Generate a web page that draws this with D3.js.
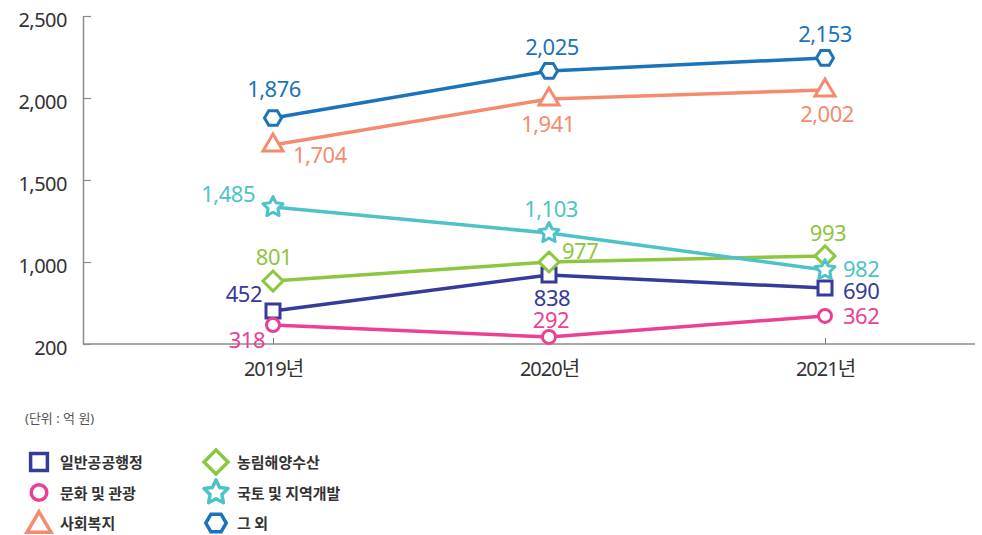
<!DOCTYPE html>
<html>
<head>
<meta charset="utf-8">
<script src="https://cdn.jsdelivr.net/npm/d3@7"></script>
<style>
  body { margin: 0; background: #fff; }
  text { font-family: "Noto Sans", "Noto Sans CJK KR", sans-serif; }
</style>
</head>
<body>
<script>
// categories and axis labels
var years = ["2019년", "2020년", "2021년"];
var yTickLevels = [500, 1000, 1500, 2000, 2500];
var yTickLabels = ["200", "1,000", "1,500", "2,000", "2,500"];

// printed values (억 원)
var generalAdmin = [452, 838, 690];
var cultureTourism = [318, 292, 362];
var socialWelfare = [1704, 1941, 2002];
var agriMarine = [801, 977, 993];
var landRegional = [1485, 1103, 982];
var others = [1876, 2025, 2153];

// where each point sits against the drawn axis (axis is not to scale)
var generalAdminLevel = [701, 921, 841];
var cultureTourismLevel = [616, 543, 671];
var socialWelfareLevel = [1713, 1994, 2049];
var agriMarineLevel = [884, 1000, 1037];
var landRegionalLevel = [1335, 1177, 951];
var othersLevel = [1878, 2165, 2244];

var series = [
  {name: "일반공공행정", values: generalAdmin, levels: generalAdminLevel, color: "#363a98", shape: "square",
   labels: [[-11, -9, "end"], [3, 31, "middle"], [18, 11, "start"]]},
  {name: "문화 및 관광", values: cultureTourism, levels: cultureTourismLevel, color: "#ec4094", shape: "circle",
   labels: [[-8, 23, "end"], [2, -9, "middle"], [18, 8, "start"]]},
  {name: "사회복지", values: socialWelfare, levels: socialWelfareLevel, color: "#f58b6d", shape: "triangle",
   labels: [[20, 18, "start"], [-1, 33, "middle"], [2, 32, "middle"]]},
  {name: "농림해양수산", values: agriMarine, levels: agriMarineLevel, color: "#8dc63f", shape: "diamond",
   labels: [[1, -16, "middle"], [13, -3, "start"], [3, -15, "middle"]]},
  {name: "국토 및 지역개발", values: landRegional, levels: landRegionalLevel, color: "#4dc3c9", shape: "star",
   labels: [[-18, -5, "end"], [2, -16, "middle"], [18, 7, "start"]]},
  {name: "그 외", values: others, levels: othersLevel, color: "#1b73bb", shape: "hexagon",
   labels: [[1, -21, "middle"], [3, -16, "middle"], [0, -16, "middle"]]}
];

var w = 982;
var h = 535;
var margin = {left: 83, top: 16, right: 7, bottom: 191};

var svg = d3.select("body")
  .append("svg")
  .attr("width", w)
  .attr("height", h);

var x_scale = d3.scalePoint()
  .domain(years)
  .range([273, 825]);

var y_scale = d3.scaleLinear()
  .domain([500, 2500])
  .range([h - margin.bottom, margin.top]);

var shapePath = function(kind, s) {
  var p = d3.path();
  if (kind === "square") {
    var a = 7 * s;
    p.rect(-a, -a, 2 * a, 2 * a);
  } else if (kind === "circle") {
    p.arc(0, 0, 6.5 * s, 0, 2 * Math.PI);
    p.closePath();
  } else if (kind === "triangle") {
    p.moveTo(0, -11 * s);
    p.lineTo(10 * s, 6 * s);
    p.lineTo(-10 * s, 6 * s);
    p.closePath();
  } else if (kind === "diamond") {
    p.moveTo(0, -10 * s);
    p.lineTo(10 * s, 0);
    p.lineTo(0, 10 * s);
    p.lineTo(-10 * s, 0);
    p.closePath();
  } else if (kind === "star") {
    for (var i = 0; i < 10; i++) {
      var r = (i % 2 === 0 ? 10.5 : 5.2) * s;
      var ang = -Math.PI / 2 + i * Math.PI / 5;
      if (i === 0) p.moveTo(r * Math.cos(ang), r * Math.sin(ang));
      else p.lineTo(r * Math.cos(ang), r * Math.sin(ang));
    }
    p.closePath();
  } else if (kind === "hexagon") {
    var R = 8.5 * s;
    for (var j = 0; j < 6; j++) {
      var an = j * Math.PI / 3;
      if (j === 0) p.moveTo(R * Math.cos(an), R * Math.sin(an));
      else p.lineTo(R * Math.cos(an), R * Math.sin(an));
    }
    p.closePath();
  }
  return p.toString();
};

// y axis
var y_axis = d3.axisLeft(y_scale)
  .tickValues(yTickLevels)
  .tickSize(-8)
  .tickSizeOuter(0)
  .tickPadding(16)
  .tickFormat(function(d, i) {
    return yTickLabels[i];
  });

var gy = svg.append("g")
  .attr("transform", "translate(" + margin.left + ",0)")
  .call(y_axis);
gy.select(".domain").attr("stroke", "#8c8c8c").attr("stroke-width", 1.5);
gy.selectAll(".tick line").attr("stroke", "#8c8c8c").attr("stroke-width", 1.2);
gy.selectAll(".tick text")
  .attr("fill", "#333")
  .attr("font-size", "20px")
  .attr("letter-spacing", "-0.5px")
  .attr("dy", "0.5em");

// x axis
var x_axis = d3.axisBottom(x_scale)
  .tickSize(-6)
  .tickSizeOuter(0)
  .tickPadding(18);

var gx = svg.append("g")
  .attr("transform", "translate(0," + (h - margin.bottom) + ")")
  .call(x_axis);
gx.select(".domain").remove();
gx.append("line")
  .attr("x1", margin.left)
  .attr("x2", w - margin.right)
  .attr("stroke", "#8c8c8c")
  .attr("stroke-width", 1.5);
gx.selectAll(".tick line").attr("stroke", "#777").attr("stroke-width", 1);
gx.selectAll(".tick text")
  .attr("fill", "#333")
  .attr("font-size", "20px")
  .attr("letter-spacing", "-1px");

// lines
var line = d3.line()
  .x(function(d, i) { return x_scale(years[i]); })
  .y(function(d) { return y_scale(d); });

svg.selectAll(".series-line")
  .data(series)
  .enter()
  .append("path")
  .classed("series-line", true)
  .attr("d", function(d) { return line(d.levels); })
  .attr("fill", "none")
  .attr("stroke", function(d) { return d.color; })
  .attr("stroke-width", 3.5);

// markers and value labels
series.forEach(function(s) {
  var g = svg.append("g");
  g.selectAll("path")
    .data(s.levels)
    .enter()
    .append("path")
    .attr("d", shapePath(s.shape, 1))
    .attr("transform", function(d, i) {
      return "translate(" + x_scale(years[i]) + "," + y_scale(d) + ")";
    })
    .attr("fill", "#fff")
    .attr("stroke", s.color)
    .attr("stroke-width", 3)
    .attr("stroke-linejoin", s.shape === "star" ? "round" : "miter");

  g.selectAll("text")
    .data(s.values)
    .enter()
    .append("text")
    .attr("x", function(d, i) { return x_scale(years[i]) + s.labels[i][0]; })
    .attr("y", function(d, i) { return y_scale(s.levels[i]) + s.labels[i][1]; })
    .attr("text-anchor", function(d, i) { return s.labels[i][2]; })
    .attr("fill", s.color)
    .attr("font-size", "22px")
    .attr("letter-spacing", "-0.5px")
    .text(function(d) { return d3.format(",")(d); });
});

// unit note
svg.append("text")
  .attr("x", 25)
  .attr("y", 423)
  .attr("fill", "#555")
  .attr("font-size", "13px")
  .text("(단위 : 억 원)");

// legend
var legend = svg.selectAll(".legend")
  .data(series)
  .enter()
  .append("g")
  .classed("legend", true)
  .attr("transform", function(d, i) {
    var col = Math.floor(i / 3);
    var row = i % 3;
    return "translate(" + (39 + col * 177) + "," + (462 + row * 30.5) + ")";
  });

legend.append("path")
  .attr("d", function(d) { return shapePath(d.shape, 1.2); })
  .attr("transform", function(d) { return d.shape === "triangle" ? "translate(0,2)" : null; })
  .attr("fill", "#fff")
  .attr("stroke", function(d) { return d.color; })
  .attr("stroke-width", 3.5)
  .attr("stroke-linejoin", function(d) { return d.shape === "star" ? "round" : "miter"; });

legend.append("text")
  .attr("x", 21)
  .attr("y", 6)
  .attr("fill", "#333")
  .attr("font-size", "15px")
  .attr("font-weight", "bold")
  .style("font-family", "'Noto Sans CJK KR', sans-serif")
  .text(function(d) { return d.name; });
</script>
</body>
</html>
